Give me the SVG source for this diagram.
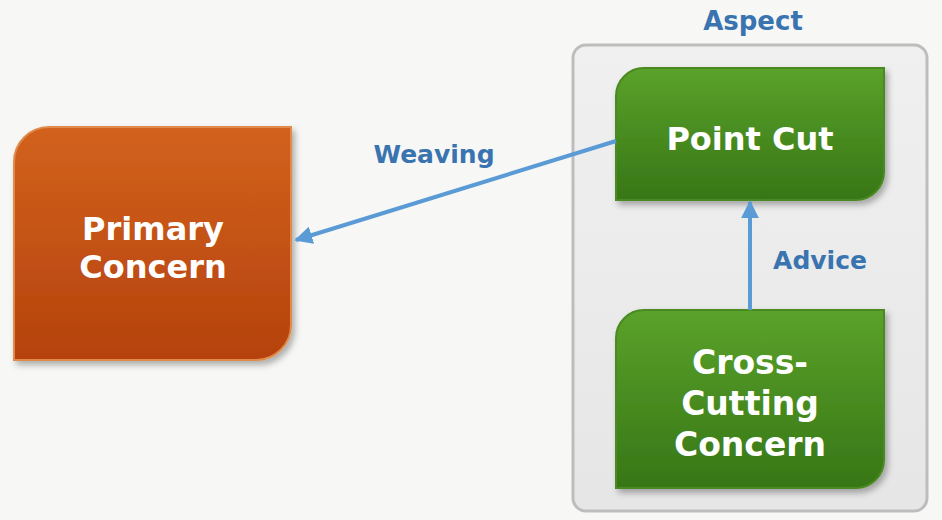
<svg xmlns="http://www.w3.org/2000/svg" width="942" height="520" viewBox="0 0 942 520">
<defs>
<linearGradient id="gOrange" x1="0" y1="0" x2="0" y2="1">
<stop offset="0" stop-color="#d2621c"/>
<stop offset="1" stop-color="#b5420d"/>
</linearGradient>
<linearGradient id="gGreen" x1="0" y1="0" x2="0" y2="1">
<stop offset="0" stop-color="#5aa22a"/>
<stop offset="1" stop-color="#377616"/>
</linearGradient>
<linearGradient id="gBox" x1="0" y1="0" x2="0" y2="1">
<stop offset="0" stop-color="#f0f0f0"/>
<stop offset="1" stop-color="#e6e6e6"/>
</linearGradient>
<filter id="sh" x="-10%" y="-10%" width="125%" height="125%">
<feDropShadow dx="3" dy="4" stdDeviation="3" flood-color="#000" flood-opacity="0.3"/>
</filter>
<marker id="ah" viewBox="0 0 10 10" refX="9" refY="5" markerWidth="4.5" markerHeight="4.5" orient="auto" markerUnits="strokeWidth">
<path d="M0,0 L10,5 L0,10 Z" fill="#5b9bd5"/>
</marker>
</defs>
<style>
.lbl{font-family:"DejaVu Sans","Noto Sans",sans-serif;font-weight:700;fill:#3a74b0;text-anchor:middle}
.nt{font-family:"DejaVu Sans","Noto Sans",sans-serif;font-weight:700;fill:#ffffff;text-anchor:middle}
.conn{stroke:#5b9bd5;stroke-width:4;fill:none}
</style>
<rect width="942" height="520" fill="#f7f8f5"/>
<g id="aspect">
<rect x="573" y="45" width="354" height="466" rx="13" fill="url(#gBox)" stroke="#bdbdbd" stroke-width="3"/>
<text class="lbl" x="753" y="30" font-size="26">Aspect</text>
</g>
<g id="primary-concern">
<path d="M14,162 A35,35 0 0 1 49,127 L291,127 L291,325 A35,35 0 0 1 256,360 L14,360 Z" fill="url(#gOrange)" stroke="#e08a4c" stroke-width="2" filter="url(#sh)"/>
<text class="nt" x="153" y="240" font-size="32">Primary</text>
<text class="nt" x="153" y="278" font-size="32">Concern</text>
</g>
<g id="point-cut">
<path d="M616,96 A28,28 0 0 1 644,68 L884,68 L884,172 A28,28 0 0 1 856,200 L616,200 Z" fill="url(#gGreen)" stroke="#4a8a22" stroke-width="2" filter="url(#sh)"/>
<text class="nt" x="750" y="150" font-size="32">Point Cut</text>
</g>
<g id="cross-cutting-concern">
<path d="M616,338 A28,28 0 0 1 644,310 L884,310 L884,460 A28,28 0 0 1 856,488 L616,488 Z" fill="url(#gGreen)" stroke="#4a8a22" stroke-width="2" filter="url(#sh)"/>
<text class="nt" x="750" y="374" font-size="33">Cross-</text>
<text class="nt" x="750" y="415" font-size="33">Cutting</text>
<text class="nt" x="750" y="456" font-size="33">Concern</text>
</g>
<g id="connectors">
<line class="conn" x1="616" y1="141" x2="296" y2="240" marker-end="url(#ah)"/>
<text class="lbl" x="434" y="163" font-size="25">Weaving</text>
<line class="conn" x1="750" y1="310" x2="750" y2="202" marker-end="url(#ah)"/>
<text class="lbl" x="820" y="269" font-size="25">Advice</text>
</g>
</svg>
